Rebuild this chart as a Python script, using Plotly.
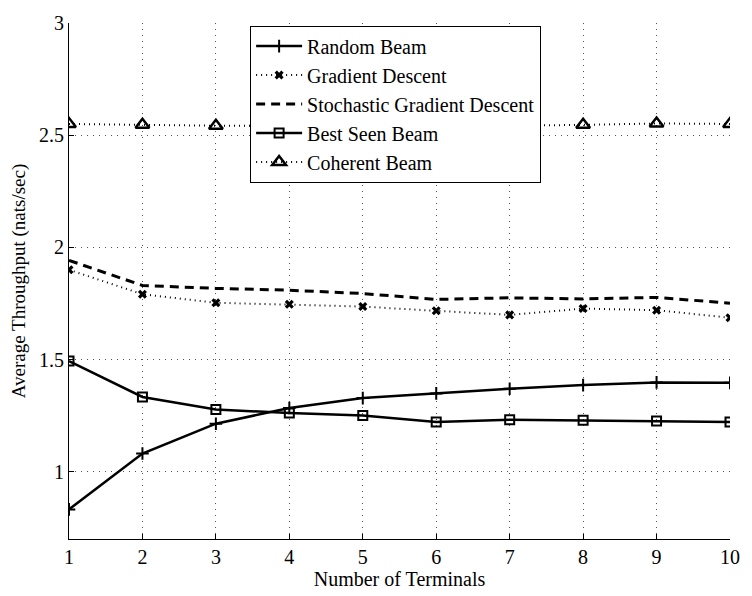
import plotly.graph_objects as go

terminals = [1, 2, 3, 4, 5, 6, 7, 8, 9, 10]

random_beam = [0.832, 1.081, 1.214, 1.284, 1.328, 1.349, 1.370, 1.386, 1.398, 1.396]
gradient_descent = [1.900, 1.791, 1.753, 1.746, 1.736, 1.717, 1.699, 1.727, 1.720, 1.686]
stochastic_gd = [1.942, 1.830, 1.817, 1.809, 1.794, 1.768, 1.775, 1.770, 1.777, 1.751]
best_seen_beam = [1.493, 1.333, 1.277, 1.262, 1.251, 1.222, 1.232, 1.229, 1.226, 1.222]
coherent_beam = [2.550, 2.546, 2.542, 2.542, 2.544, 2.542, 2.542, 2.546, 2.552, 2.550]

y_ticks = [1, 1.5, 2, 2.5, 3]
y_tick_text = ["1", "1.5", "2", "2.5", "3"]

FONT = "Liberation Serif, Times New Roman, serif"

fig = go.Figure()

fig.add_trace(go.Scatter(
    x=terminals, y=random_beam, name="Random Beam", mode="lines+markers",
    line=dict(color="black", width=2.5),
    marker=dict(symbol="cross-thin-open", size=9, line=dict(color="black", width=2)),
))
fig.add_trace(go.Scatter(
    x=terminals, y=gradient_descent, name="Gradient Descent", mode="lines+markers",
    line=dict(color="black", width=2, dash="1px,4px"),
    marker=dict(symbol="x", size=8, color="black", line=dict(width=0)),
))
fig.add_trace(go.Scatter(
    x=terminals, y=stochastic_gd, name="Stochastic Gradient Descent", mode="lines",
    line=dict(color="black", width=3, dash="9px,6px"),
))
fig.add_trace(go.Scatter(
    x=terminals, y=best_seen_beam, name="Best Seen Beam", mode="lines+markers",
    line=dict(color="black", width=2.5),
    marker=dict(symbol="square-open", size=9, color="black", line=dict(color="black", width=2)),
))
fig.add_trace(go.Scatter(
    x=terminals, y=coherent_beam, name="Coherent Beam", mode="lines+markers",
    line=dict(color="black", width=2, dash="1px,4px"),
    marker=dict(symbol="triangle-up-open", size=12, color="black", line=dict(color="black", width=2.5)),
))

axis_common = dict(
    showline=True, linecolor="black", linewidth=1, mirror=False,
    ticks="inside", ticklen=5, tickcolor="black", tickwidth=1,
    showgrid=True, gridcolor="#555555", gridwidth=1, griddash="1px,5px",
    zeroline=False,
    tickfont=dict(family=FONT, size=20, color="black"),
)

fig.update_xaxes(
    range=[1, 10], tickvals=terminals,
    title=dict(text="Number of Terminals", font=dict(family=FONT, size=20, color="black"), standoff=2),
    **axis_common,
)
fig.update_yaxes(
    range=[0.7, 3], tickvals=y_ticks, ticktext=y_tick_text,
    title=dict(text="Average Throughput (nats/sec)", font=dict(family=FONT, size=19, color="black"), standoff=8),
    **axis_common,
)

fig.update_layout(
    width=752, height=596,
    margin=dict(l=69, r=15, t=16, b=53),
    paper_bgcolor="white", plot_bgcolor="white",
    font=dict(family=FONT, size=20, color="black"),
    showlegend=True,
    legend=dict(
        x=0.274, y=0.995, xanchor="left", yanchor="top",
        bgcolor="white", bordercolor="black", borderwidth=1,
        font=dict(family=FONT, size=20, color="black"),
        tracegroupgap=0, itemwidth=46,
    ),
)

fig.write_html("out.html")
